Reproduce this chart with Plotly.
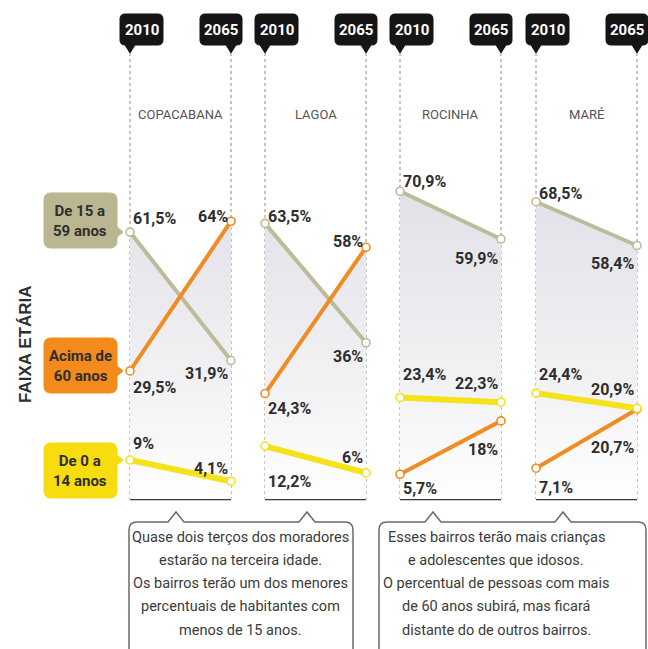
import plotly.graph_objects as go

# ---------------- data ----------------
neighborhoods = ["COPACABANA", "LAGOA", "ROCINHA", "MARÉ"]
years = ["2010", "2065"]
age_groups = ["De 15 a<br>59 anos", "Acima de<br>60 anos", "De 0 a<br>14 anos"]
axis_title = "FAIXA ETÁRIA"

adults_2010 = [61.5, 63.5, 70.9, 68.5]     # De 15 a 59 anos
adults_2065 = [31.9, 36.0, 59.9, 58.4]
seniors_2010 = [29.5, 24.3, 5.7, 7.1]      # Acima de 60 anos
seniors_2065 = [64.0, 58.0, 18.0, 20.7]
children_2010 = [9.0, 12.2, 23.4, 24.4]    # De 0 a 14 anos
children_2065 = [4.1, 6.0, 22.3, 20.9]

note_left = ["Quase dois terços dos moradores", "estarão na terceira idade.",
             "Os bairros terão um dos menores", "percentuais de habitantes com",
             "menos de 15 anos."]
note_right = ["Esses bairros terão mais crianças", "e adolescentes que idosos.",
              "O percentual de pessoas com mais", "de 60 anos subirá, mas ficará",
              "distante do de outros bairros."]

# ---------------- styling / layout ----------------
W, H = 648, 649
PX_PER_PCT = 4.34
BASE_PY = 499
PANEL_LEFT = [130, 265, 400, 536]
PANEL_W = 101

COL_ADULT = "#bdbb9a"
COL_SENIOR = "#f08c24"
COL_CHILD = "#f4e21a"
BOX_ADULT = "#b9b691"
BOX_SENIOR = "#f38a1c"
BOX_CHILD = "#f7dd10"
FONT = "Roboto, Liberation Sans, sans-serif"
TXT = "#2e2e2e"

# label vertical shifts in px (positive = up)
shift_adults = ([14, 7, 10, 8], [-13, -14, -19, -18])
shift_seniors = ([-17, -15, -14, -19], [5, 6, -29, -38])
shift_children = ([16, -35, 23, 19], [13, 15, 19, 19])

series = [
    (adults_2010, adults_2065, COL_ADULT, 4, shift_adults),
    (seniors_2010, seniors_2065, COL_SENIOR, 4, shift_seniors),
    (children_2010, children_2065, COL_CHILD, 6, shift_children),
]


def fx(px):
    return px / W


def fy(py):
    return 1 - py / H


def pt(px, py):
    return f"{fx(px):.5f},{fy(py):.5f}"


def fmt(v):
    if abs(v - round(v)) < 1e-9:
        return f"{v:.0f}%"
    return f"{v:.1f}%".replace(".", ",")


def paper_text(px, py, text, size, color, family=FONT, **kw):
    return dict(x=fx(px), y=fy(py), xref="paper", yref="paper", text=text,
                showarrow=False, xanchor="center", yanchor="middle",
                font=dict(family=family, size=size, color=color), **kw)


def rounded_path(x0, y0, x1, y1, r, ptr_right=None, ptr_down=None):
    p = [f"M{pt(x0 + r, y0)}", f"L{pt(x1 - r, y0)}", f"Q{pt(x1, y0)} {pt(x1, y0 + r)}"]
    if ptr_right:
        py, tip, hw = ptr_right
        p += [f"L{pt(x1, py - hw)}", f"L{pt(tip, py)}", f"L{pt(x1, py + hw)}"]
    p += [f"L{pt(x1, y1 - r)}", f"Q{pt(x1, y1)} {pt(x1 - r, y1)}"]
    if ptr_down:
        px, tip, hw = ptr_down
        p += [f"L{pt(px + hw, y1)}", f"L{pt(px, tip)}", f"L{pt(px - hw, y1)}"]
    p += [f"L{pt(x0 + r, y1)}", f"Q{pt(x0, y1)} {pt(x0, y1 - r)}",
          f"L{pt(x0, y0 + r)}", f"Q{pt(x0, y0)} {pt(x0 + r, y0)}", "Z"]
    return " ".join(p)


fig = go.Figure()
shapes = []
annotations = []

# gradient backgrounds under the upper envelope of each panel
for i in range(len(neighborhoods)):
    lines = [(s[0][i], s[1][i]) for s in series]
    ts = {0.0, 1.0}
    for a in range(len(lines)):
        for b in range(a + 1, len(lines)):
            (a0, a1), (b0, b1) = lines[a], lines[b]
            den = (a1 - a0) - (b1 - b0)
            if den != 0:
                t = (b0 - a0) / den
                if 0 < t < 1:
                    ts.add(t)
    ts = sorted(ts)
    env = [max(l0 + (l1 - l0) * t for l0, l1 in lines) for t in ts]
    xs = [PANEL_LEFT[i] + PANEL_W * t for t in ts]
    fig.add_trace(go.Scatter(
        x=xs + [PANEL_LEFT[i] + PANEL_W, PANEL_LEFT[i]], y=env + [0, 0],
        fill="toself", mode="none", hoverinfo="skip", showlegend=False,
        fillgradient=dict(type="vertical", start=0, stop=72,
                          colorscale=[[0, "#ffffff"], [0.3, "#f4f4f6"], [1, "#e0e0e7"]]),
    ))

# dotted verticals, baselines, badges, titles
for i, name in enumerate(neighborhoods):
    xl, xr = PANEL_LEFT[i], PANEL_LEFT[i] + PANEL_W
    for xv in (xl, xr):
        shapes.append(dict(type="line", xref="x", yref="paper", x0=xv, x1=xv,
                           y0=fy(53), y1=fy(BASE_PY), layer="below",
                           line=dict(color="#8c8c8c", width=1, dash="dot")))
    shapes.append(dict(type="line", xref="x", yref="y", x0=xl, x1=xr, y0=0, y1=0,
                       layer="below", line=dict(color="#3a3a3a", width=2.5)))
    for xv, yr, (dl, dr) in ((xl, years[0], (-10, 33)), (xr, years[1], (-31, 11))):
        x0, x1 = xv + dl, xv + dr
        shapes.append(dict(type="path", xref="paper", yref="paper",
                           path=rounded_path(x0, 14, x1, 45, 5, ptr_down=(xv, 53, 5)),
                           fillcolor="#151515", line=dict(color="#151515", width=1)))
        annotations.append(paper_text((x0 + x1) / 2, 30, f"<b>{yr}</b>", 15, "white"))
    annotations.append(paper_text((xl + xr) / 2, 115, name, 13, "#555555"))

# slope lines + value labels
for v10, v65, col, wid, (sh10, sh65) in series:
    for i in range(len(neighborhoods)):
        xl, xr = PANEL_LEFT[i], PANEL_LEFT[i] + PANEL_W
        fig.add_trace(go.Scatter(
            x=[xl, xr], y=[v10[i], v65[i]], mode="lines+markers",
            line=dict(color=col, width=wid),
            marker=dict(symbol="circle", size=8, color="white", line=dict(color=col, width=1.6)),
            hoverinfo="skip", showlegend=False))
        annotations.append(dict(x=xl + 1, y=v10[i], xref="x", yref="y", text=f"<b>{fmt(v10[i])}</b>",
                                showarrow=False, xanchor="left", yanchor="middle", yshift=sh10[i],
                                font=dict(family=FONT, size=16, color=TXT)))
        annotations.append(dict(x=xr - 1, y=v65[i], xref="x", yref="y", text=f"<b>{fmt(v65[i])}</b>",
                                showarrow=False, xanchor="right", yanchor="middle", yshift=sh65[i],
                                font=dict(family=FONT, size=16, color=TXT)))

# legend boxes (point at Copacabana 2010 values)
box_specs = [(193, 248, BOX_ADULT, adults_2010[0]),
             (338, 393, BOX_SENIOR, seniors_2010[0]),
             (443, 498, BOX_CHILD, children_2010[0])]
for (y0, y1, col, v), label in zip(box_specs, age_groups):
    ptr_py = BASE_PY - v * PX_PER_PCT
    shapes.append(dict(type="path", xref="paper", yref="paper",
                       path=rounded_path(44, y0, 117, y1, 7, ptr_right=(ptr_py, 123, 5)),
                       fillcolor=col, line=dict(color=col, width=1)))
    annotations.append(paper_text(80, (y0 + y1) / 2, f"<b>{label}</b>", 15, TXT))

annotations.append(paper_text(25, 345, f"<b>{axis_title}</b>", 17, TXT,
                              family="Liberation Sans, Arial, sans-serif", textangle=-90))


# callout boxes
def callout_path(x0, x1, ytop, apex, ptrs, hw=8, r=8, ybot=700):
    p = [f"M{pt(x0, ybot)}", f"L{pt(x0, ytop + r)}", f"Q{pt(x0, ytop)} {pt(x0 + r, ytop)}"]
    for px in ptrs:
        p += [f"L{pt(px - hw, ytop)}", f"L{pt(px, apex)}", f"L{pt(px + hw, ytop)}"]
    p += [f"L{pt(x1 - r, ytop)}", f"Q{pt(x1, ytop)} {pt(x1, ytop + r)}", f"L{pt(x1, ybot)}"]
    return " ".join(p)


for (x0, x1, ptrs, tx, lines_) in ((129, 353, (176, 307), 240, note_left),
                                   (379, 646, (433, 563), 496, note_right)):
    shapes.append(dict(type="path", xref="paper", yref="paper",
                       path=callout_path(x0, x1, 522, 512, ptrs),
                       line=dict(color="#6a6a6a", width=1.5)))
    for k, line in enumerate(lines_):
        annotations.append(paper_text(tx, 537 + 23.3 * k, line, 14.5, "#3a3a3a"))

fig.update_layout(
    width=W, height=H, margin=dict(l=0, r=0, t=0, b=0),
    paper_bgcolor="white", plot_bgcolor="white", showlegend=False,
    xaxis=dict(range=[0, W], visible=False, fixedrange=True),
    yaxis=dict(range=[(BASE_PY - H) / PX_PER_PCT, BASE_PY / PX_PER_PCT], visible=False, fixedrange=True),
    shapes=shapes, annotations=annotations,
)

fig.write_html("out.html", config={"displayModeBar": False},
               post_script="document.body.style.margin='0';document.body.style.overflow='hidden';")
